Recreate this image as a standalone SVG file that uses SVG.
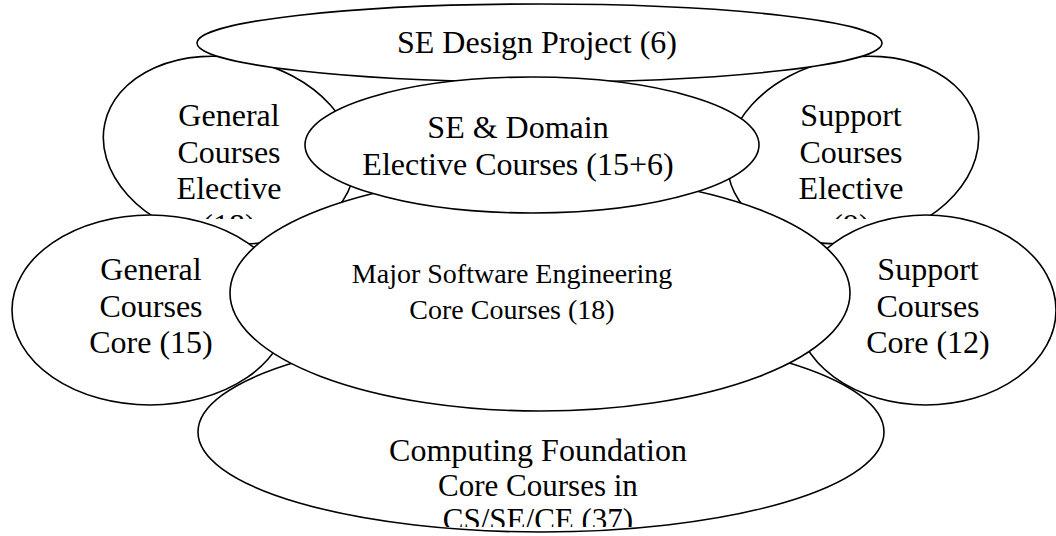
<svg xmlns="http://www.w3.org/2000/svg" width="1056" height="536" viewBox="0 0 1056 536">
<style>
.sh{fill:#fff;stroke:#000;stroke-width:1.6}
.t{font-family:"Liberation Serif","Times New Roman",serif;font-size:32px;fill:#000;text-anchor:middle}
.s{font-size:31px}
.m{font-size:28px}
</style>
<defs>
<clipPath id="clipTop"><rect x="0" y="0" width="1056" height="219"/></clipPath>
<clipPath id="clipBottom"><rect x="0" y="0" width="1056" height="527"/></clipPath>
</defs>
<rect width="1056" height="536" fill="#fff"/>
<g id="general-elective">
<ellipse class="sh" cx="229" cy="150" rx="127" ry="92" transform="rotate(12 229 150)"/>
<text class="t"><tspan x="229" y="126">General</tspan><tspan x="229" y="162.5">Courses</tspan><tspan x="229" y="199">Elective</tspan></text>
<text class="t" x="229" y="235.5" clip-path="url(#clipTop)">(18)</text>
</g>
<g id="support-elective">
<ellipse class="sh" cx="853" cy="150" rx="127" ry="92" transform="rotate(-12 853 150)"/>
<text class="t"><tspan x="851" y="126">Support</tspan><tspan x="851" y="162.5">Courses</tspan><tspan x="851" y="199">Elective</tspan></text>
<text class="t" x="851" y="235.5" clip-path="url(#clipTop)">(9)</text>
</g>
<g id="se-design-project">
<ellipse class="sh" cx="539.5" cy="43" rx="342.5" ry="39"/>
<text class="t" x="537" y="53">SE Design Project (6)</text>
</g>
<g id="general-core">
<ellipse class="sh" cx="150" cy="310" rx="138" ry="95"/>
<text class="t"><tspan x="151" y="280">General</tspan><tspan x="151" y="316.5">Courses</tspan><tspan x="151" y="353">Core (15)</tspan></text>
</g>
<g id="support-core">
<ellipse class="sh" cx="926" cy="310" rx="130" ry="95"/>
<text class="t"><tspan x="928" y="280">Support</tspan><tspan x="928" y="316.5">Courses</tspan><tspan x="928" y="353">Core (12)</tspan></text>
</g>
<g id="computing-foundation">
<ellipse class="sh" cx="541" cy="432" rx="343" ry="100"/>
<text class="t" x="538" y="461">Computing Foundation</text>
<text class="t s" x="538" y="496">Core Courses in</text>
<text class="t s" x="538" y="530" clip-path="url(#clipBottom)">CS/SE/CE (37)</text>
</g>
<g id="major-se-core">
<ellipse class="sh" cx="540" cy="293" rx="310" ry="118"/>
<text class="t m"><tspan x="512" y="283">Major Software Engineering</tspan><tspan x="512" y="319">Core Courses (18)</tspan></text>
</g>
<g id="se-domain-elective">
<ellipse class="sh" cx="532" cy="145" rx="227" ry="68"/>
<text class="t"><tspan x="518" y="138">SE &amp; Domain</tspan><tspan x="518" y="175">Elective Courses (15+6)</tspan></text>
</g>
<g id="connectors"/>
</svg>
